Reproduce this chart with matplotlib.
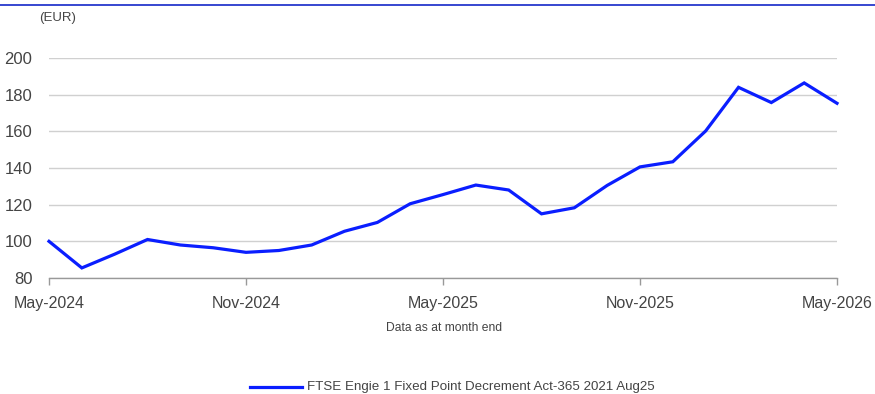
import matplotlib
matplotlib.use("Agg")
import matplotlib.pyplot as plt
from matplotlib.lines import Line2D

plt.rcParams['font.family'] = ['Liberation Sans', 'DejaVu Sans']

months = ["May-2024", "Jun-2024", "Jul-2024", "Aug-2024", "Sep-2024", "Oct-2024",
          "Nov-2024", "Dec-2024", "Jan-2025", "Feb-2025", "Mar-2025", "Apr-2025",
          "May-2025", "Jun-2025", "Jul-2025", "Aug-2025", "Sep-2025", "Oct-2025",
          "Nov-2025", "Dec-2025", "Jan-2026", "Feb-2026", "Mar-2026", "Apr-2026",
          "May-2026"]
values = [100, 85.5, 93, 101, 98, 96.5, 94, 95, 98, 105.5, 110.3, 120.5,
          125.5, 130.7, 128, 115, 118.3, 130.5, 140.6, 143.4, 160.2, 184,
          175.7, 186.4, 175.3]
xtick_labels = ["May-2024", "Nov-2024", "May-2025", "Nov-2025", "May-2026"]
yticks = [80, 100, 120, 140, 160, 180, 200]
series_name = "FTSE Engie 1 Fixed Point Decrement Act-365 2021 Aug25"

fig = plt.figure(figsize=(8.75, 3.94), dpi=100)
W, H = 875, 394
ax = fig.add_axes([49 / W, 1 - 278 / H, (837 - 49) / W, (278 - 58) / H])

x = list(range(len(months)))
line_color = '#0a1eff'
ax.plot(x, values, color=line_color, lw=2.3, solid_joinstyle='miter', zorder=3, clip_on=False)

ax.set_xlim(0, len(months) - 1)
ax.set_ylim(80, 200)
ax.set_yticks(yticks)
ax.set_yticklabels([str(v) for v in yticks])
tick_pos = [months.index(m) for m in xtick_labels]
ax.set_xticks(tick_pos)
ax.set_xticklabels(xtick_labels)

ax.grid(axis='y', color='#d0d0d0', lw=1.0)
ax.set_axisbelow(True)
for s in ['top', 'right', 'left']:
    ax.spines[s].set_visible(False)
ax.spines['bottom'].set_color('#999999')
ax.spines['bottom'].set_linewidth(1.0)
ax.tick_params(axis='y', length=0, pad=12, labelsize=12, labelcolor='#444444')
ax.tick_params(axis='x', length=5, width=1.0, color='#999999', direction='out',
               pad=8, labelsize=11.5, labelcolor='#444444')

fig.text(39 / W, 1 - 18 / H, "(EUR)", fontsize=9.5, color='#444444', ha='left', va='center')
fig.text(444 / W, 1 - 328 / H, "Data as at month end", fontsize=8.7, color='#444444',
         ha='center', va='center')

# top rule
fig.add_artist(Line2D([0, 1], [1 - 5 / H, 1 - 5 / H], transform=fig.transFigure,
                      color='#1428c8', lw=1.2))

# legend
lx0, lx1, ly = 250 / W, 302 / W, 1 - 387 / H
fig.add_artist(Line2D([lx0, lx1], [ly, ly], transform=fig.transFigure, color=line_color, lw=2.3))
fig.text(307 / W, ly, series_name, fontsize=9.6, color='#444444', ha='left', va='center')

fig.savefig("out.png", dpi=100)
